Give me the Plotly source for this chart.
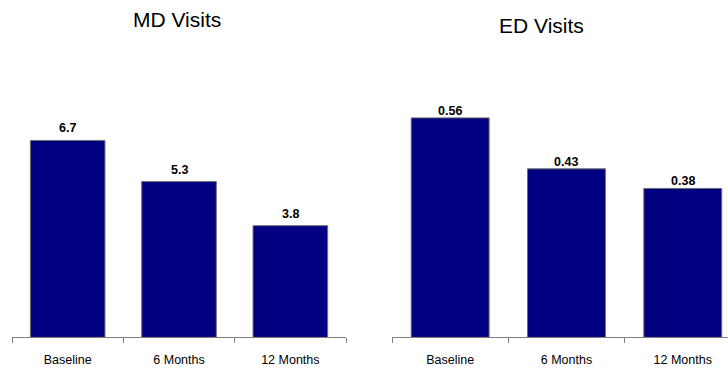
import plotly.graph_objects as go

categories = ["Baseline", "6 Months", "12 Months"]
md_values = [6.7, 5.3, 3.8]
md_labels = ["6.7", "5.3", "3.8"]
ed_values = [0.56, 0.43, 0.38]
ed_labels = ["0.56", "0.43", "0.38"]

FONT = "Arial, 'Liberation Sans', sans-serif"
W, H = 728, 368
BAR = "#000080"
EDGE = "#6e6e6e"

fig = go.Figure()
fig.add_trace(go.Bar(x=categories, y=md_values, marker=dict(color=BAR, line=dict(color=EDGE, width=1)),
                     xaxis="x", yaxis="y", showlegend=False))
fig.add_trace(go.Bar(x=categories, y=ed_values, marker=dict(color=BAR, line=dict(color=EDGE, width=1)),
                     xaxis="x2", yaxis="y2", showlegend=False))

ann = []
for c, v, t in zip(categories, md_values, md_labels):
    ann.append(dict(x=c, y=v, xref="x", yref="y", text=f"<b>{t}</b>", showarrow=False,
                    yanchor="bottom", yshift=3, font=dict(family=FONT, size=12.5, color="black")))
for c, v, t in zip(categories, ed_values, ed_labels):
    ann.append(dict(x=c, y=v, xref="x2", yref="y2", text=f"<b>{t}</b>", showarrow=False,
                    yanchor="bottom", yshift=-2, font=dict(family=FONT, size=12.5, color="black")))
ann.append(dict(x=177 / W, y=1 - 19.5 / H, xref="paper", yref="paper", text="MD Visits", showarrow=False,
                xanchor="center", yanchor="middle", font=dict(family=FONT, size=21, color="black")))
ann.append(dict(x=541 / W, y=1 - 25.5 / H, xref="paper", yref="paper", text="ED Visits", showarrow=False,
                xanchor="center", yanchor="middle", font=dict(family=FONT, size=21, color="black")))

ydom = [1 - 337.4 / H, 1 - 102.2 / H]
xcommon = dict(type="category", tickson="boundaries", ticks="outside", ticklen=5, tickcolor="#808080",
               showline=True, linecolor="#808080", linewidth=1, showgrid=False, zeroline=False,
               tickfont=dict(family=FONT, size=12.5, color="black"), ticklabelstandoff=11)
fig.update_layout(
    width=W, height=H, margin=dict(l=0, r=0, t=0, b=0),
    paper_bgcolor="white", plot_bgcolor="white", bargap=0.33,
    xaxis=dict(domain=[12 / W, 346 / W], range=[-0.5, 2.5], anchor="y", **xcommon),
    xaxis2=dict(domain=[392 / W, 1.0], range=[-0.5, 2.389], anchor="y2", **xcommon),
    yaxis=dict(domain=ydom, range=[0, 8], visible=False, anchor="x"),
    yaxis2=dict(domain=ydom, range=[0, 0.6], visible=False, anchor="x2"),
    annotations=ann,
)
fig.write_html("out.html")
